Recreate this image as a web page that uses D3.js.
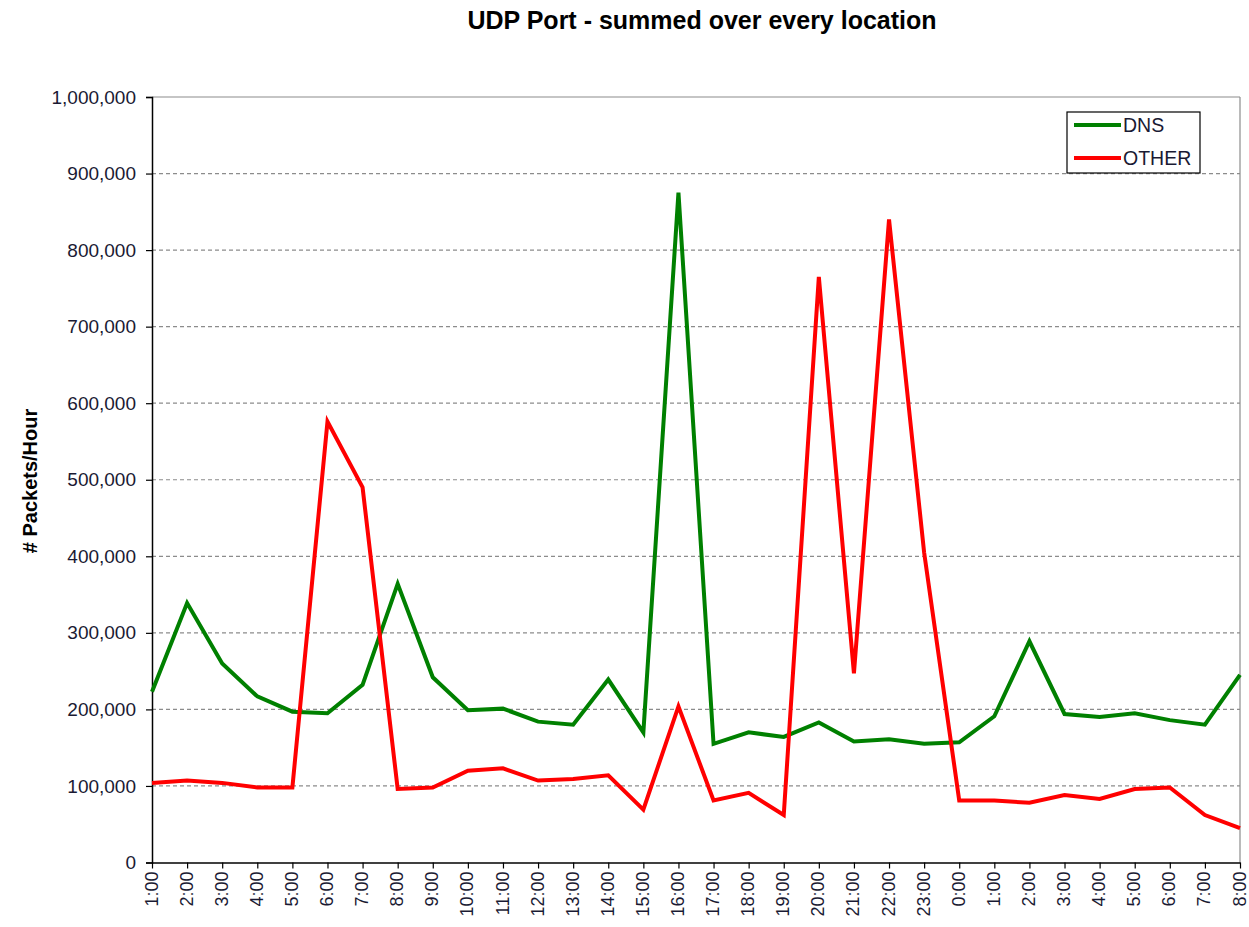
<!DOCTYPE html>
<html>
<head>
<meta charset="utf-8">
<script src="https://cdn.jsdelivr.net/npm/d3@7"></script>
<style>
  body { margin: 0; background: #fff; }
  svg { display: block; font-family: "Liberation Sans", Arial, sans-serif; }
</style>
</head>
<body>
<svg id="chart" width="1249" height="927"></svg>
<script>
const categories = ["1:00","2:00","3:00","4:00","5:00","6:00","7:00","8:00","9:00","10:00","11:00","12:00","13:00","14:00","15:00","16:00","17:00","18:00","19:00","20:00","21:00","22:00","23:00","0:00","1:00","2:00","3:00","4:00","5:00","6:00","7:00","8:00"];
const dnsValues = [223000,339000,260000,217000,197000,195000,232000,364000,242000,199000,201000,184000,180000,239000,170000,875000,155000,170000,164000,183000,158000,161000,155000,157000,191000,289000,194000,190000,195000,186000,180000,245000];
const otherValues = [104000,107000,104000,98000,98000,576000,490000,96000,98000,120000,123000,107000,109000,114000,69000,204000,81000,91000,62000,765000,247000,840000,405000,81000,81000,78000,88000,83000,96000,98000,62000,45000];
const yTicks = [0,100000,200000,300000,400000,500000,600000,700000,800000,900000,1000000];
const seriesNames = ["DNS","OTHER"];
const seriesColors = ["#008000","#ff0000"];

const svg = d3.select("#chart");
const pLeft = 152, pRight = 1240, pTop = 97, pBottom = 862.5;

const x = d3.scalePoint().domain(d3.range(categories.length)).range([pLeft, pRight]);
const y = d3.scaleLinear().domain([0, 1000000]).range([pBottom, pTop]);

// gridlines
svg.append("g").selectAll("line").data(yTicks.filter(d => d > 0 && d < 1000000)).join("line")
  .attr("x1", pLeft).attr("x2", pRight)
  .attr("y1", d => y(d)).attr("y2", d => y(d))
  .attr("stroke", "#8c8c8c").attr("stroke-width", 1.2).attr("stroke-dasharray", "4,3");

// top and right border
svg.append("line").attr("x1", pLeft).attr("x2", pRight).attr("y1", y(1000000)).attr("y2", y(1000000))
  .attr("stroke", "#8c8c8c").attr("stroke-width", 1.2);
svg.append("line").attr("x1", pRight).attr("x2", pRight).attr("y1", pTop).attr("y2", pBottom)
  .attr("stroke", "#8c8c8c").attr("stroke-width", 1.2);

// y axis
const fmt = d3.format(",");
const yAxis = svg.append("g").attr("transform", `translate(${pLeft},0)`)
  .call(d3.axisLeft(y).tickValues(yTicks).tickFormat(d => fmt(d)).tickSize(6).tickPadding(10));
yAxis.select(".domain").attr("stroke", "#000").attr("stroke-width", 1.5);
yAxis.selectAll(".tick line").attr("stroke", "#000").attr("stroke-width", 1.2);
yAxis.selectAll(".tick text").attr("font-size", 19).attr("fill", "#1a1a33")
  .attr("font-family", "'Liberation Sans', Arial, sans-serif");

// x axis
const xAxis = svg.append("g").attr("transform", `translate(0,${pBottom})`)
  .call(d3.axisBottom(x).tickFormat(i => categories[i]).tickSize(6).tickSizeOuter(0));
xAxis.select(".domain").attr("stroke", "#000").attr("stroke-width", 1.5);
xAxis.selectAll(".tick line").attr("stroke", "#000").attr("stroke-width", 1.2);
xAxis.selectAll(".tick text")
  .attr("font-size", 18).attr("fill", "#1a1a33")
  .attr("font-family", "'Liberation Sans', Arial, sans-serif")
  .attr("transform", "rotate(-90)")
  .attr("text-anchor", "end")
  .attr("x", -9).attr("y", 0).attr("dy", "0.28em");

// lines
const line = d3.line().x((d, i) => x(i)).y(d => y(d));
[dnsValues, otherValues].forEach((vals, k) => {
  svg.append("path").datum(vals)
    .attr("d", line)
    .attr("fill", "none")
    .attr("stroke", seriesColors[k])
    .attr("stroke-width", 4)
    .attr("stroke-linejoin", "miter")
    .attr("stroke-miterlimit", 10);
});

// title
svg.append("text").attr("x", 702).attr("y", 29).attr("text-anchor", "middle")
  .attr("font-size", 25).attr("font-weight", "bold").attr("fill", "#000")
  .text("UDP Port - summed over every location");

// y label
svg.append("text").attr("transform", "translate(37,481) rotate(-90)")
  .attr("text-anchor", "middle").attr("font-size", 20).attr("font-weight", "bold").attr("fill", "#000")
  .text("# Packets/Hour");

// legend
const lg = svg.append("g");
lg.append("rect").attr("x", 1067).attr("y", 112).attr("width", 133).attr("height", 61)
  .attr("fill", "#fff").attr("stroke", "#000").attr("stroke-width", 1.2);
seriesNames.forEach((n, k) => {
  const yy = 125 + k * 33;
  lg.append("line").attr("x1", 1074).attr("x2", 1121).attr("y1", yy).attr("y2", yy)
    .attr("stroke", seriesColors[k]).attr("stroke-width", 4);
  lg.append("text").attr("x", 1123).attr("y", yy).attr("dy", "0.36em")
    .attr("font-size", 19.5).attr("fill", "#1a1a33").text(n);
});
</script>
</body>
</html>
